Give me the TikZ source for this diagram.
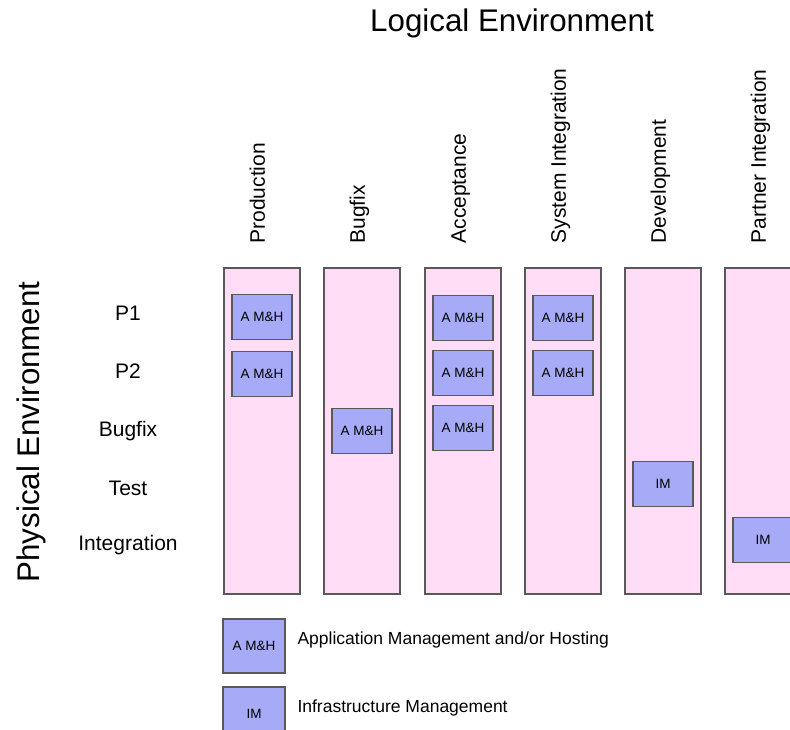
\documentclass[tikz,border=0pt]{standalone}
\usepackage{fontspec}
\setmainfont{Liberation Sans}
\usetikzlibrary{positioning}

\definecolor{envpink}{HTML}{FFDDF6}
\definecolor{mhblue}{HTML}{A7AAF7}
\definecolor{edgegray}{HTML}{595959}

\tikzset{
  envcol/.style={draw=edgegray, line width=1.2pt, fill=envpink,
    minimum width=76pt, minimum height=326pt, inner sep=0pt},
  taskbox/.style={draw=edgegray, line width=1.2pt, fill=mhblue,
    minimum width=60pt, minimum height=45pt, inner sep=0pt,
    font=\fontsize{13.5}{16}\selectfont},
  legendbox/.style={taskbox, minimum width=62pt, minimum height=54pt},
  colhead/.style={rotate=90, anchor=west, font=\fontsize{21}{25}\selectfont,
    text height=0.75em, text depth=0.2em},
  rowhead/.style={font=\fontsize{21}{25}\selectfont},
  bigtitle/.style={font=\fontsize{31.3}{37}\selectfont},
}

\begin{document}
\begin{tikzpicture}[x=1pt, y=-1pt]
    \useasboundingbox (0,0) rectangle (790,729);
    \clip (0,0) rectangle (790,729);

    % Titles
    \node[bigtitle] (logical) at (512,23) {Logical Environment};
    \node[bigtitle, rotate=90] (physical) at (31,432) {Physical Environment};

    % Logical environment columns
    \foreach \x/\name/\txt in {262/prod/Production, 362/bugfix/Bugfix,
        463/accept/Acceptance, 563/sysint/System Integration,
        663/devel/Development, 763/partner/Partner Integration} {
        \node[envcol] (\name) at (\x,431) {};
        \node[colhead] (\name-head) at (\x,247) {\txt};
    }

    % Physical environment rows
    \foreach \y/\name/\txt in {313/p1/P1, 371/p2/P2, 431/bf/Bugfix,
        488/test/Test, 545/integ/Integration} {
        \node[rowhead] (row-\name) at (128,\y) {\txt};
    }

    % Application management and hosting
    \foreach \x/\y/\name in {262/317/prod-p1, 262/374/prod-p2, 362/431/bugfix-bf,
        463/318/accept-p1, 463/373/accept-p2, 463/428/accept-bf,
        563/318/sysint-p1, 563/373/sysint-p2} {
        \node[taskbox] (\name) at (\x,\y) {A M\&H};
    }

    % Infrastructure management
    \foreach \x/\y/\name in {663/484/devel-test, 763/540/partner-integ} {
        \node[taskbox] (\name) at (\x,\y) {IM};
    }

    % Legend
    \node[legendbox] (leg-amh) at (254,646) {A M\&H};
    \node[legendbox] (leg-im) at (254,714) {IM};
    \node[anchor=west, font=\fontsize{17.5}{21}\selectfont] (leg-amh-txt) at (294,640)
        {Application Management and/or Hosting};
    \node[anchor=west, font=\fontsize{17.5}{21}\selectfont] (leg-im-txt) at (294,708)
        {Infrastructure Management};

\end{tikzpicture}
\end{document}
